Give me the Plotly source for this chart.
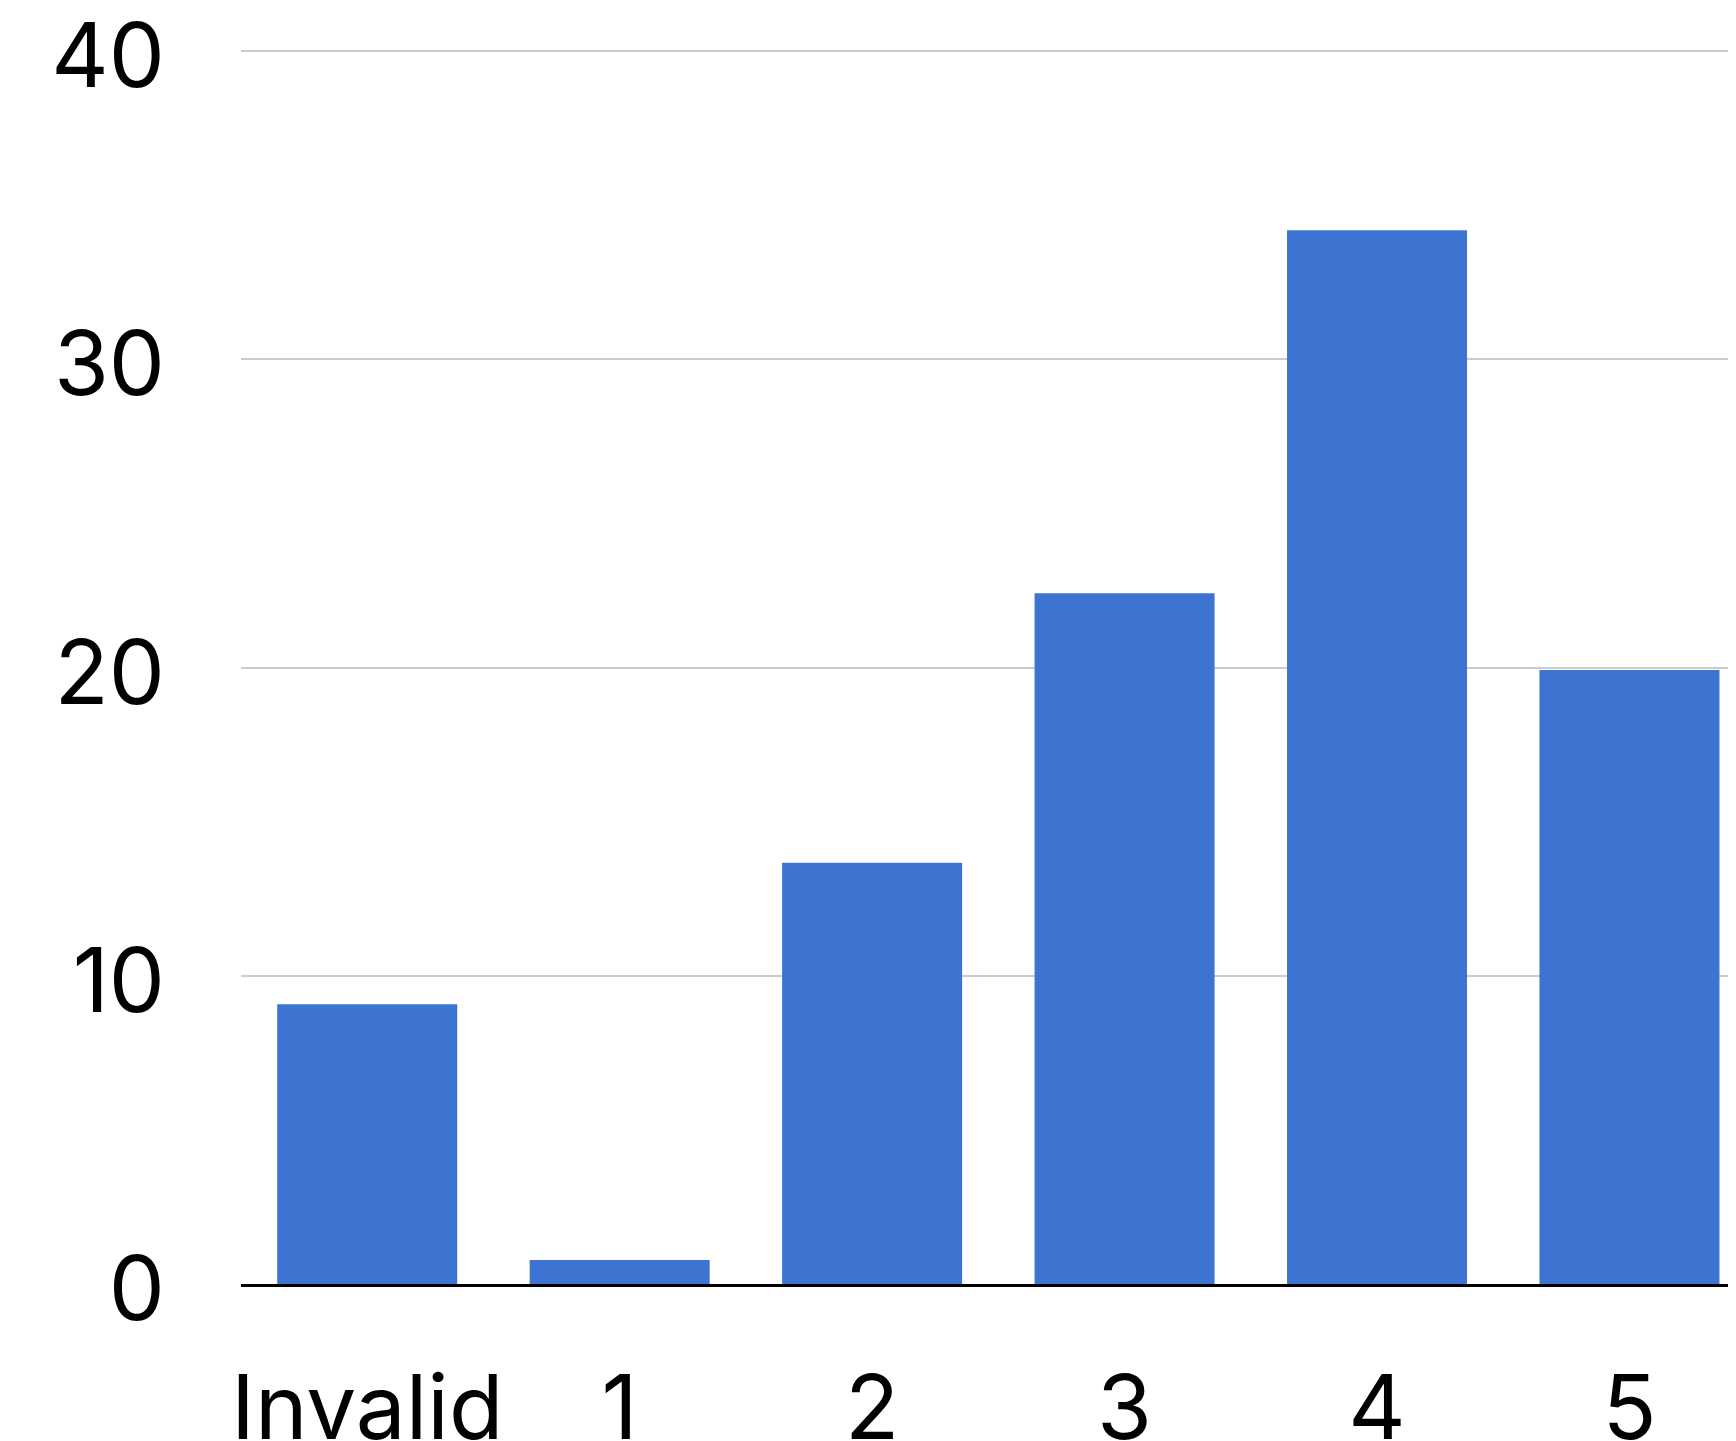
import plotly.graph_objects as go

categories = ["Invalid", "1", "2", "3", "4", "5"]
values = [9.08, 0.78, 13.67, 22.41, 34.19, 19.92]
y_ticks = [0, 10, 20, 30, 40]

fig = go.Figure(go.Bar(x=categories, y=values, marker=dict(color="#3e74d1", line=dict(width=0))))

fig.update_layout(
    width=1728, height=1433,
    margin=dict(l=233, r=0, t=40, b=157),
    paper_bgcolor="white", plot_bgcolor="white",
    bargap=0.287,
    showlegend=False,
    font=dict(family="Inter, Liberation Sans, Arial, sans-serif", color="black", size=88),
)
fig.update_xaxes(
    type="category", range=[-0.5, 5.422],
    showgrid=False, showline=True, linecolor="black", linewidth=3,
    ticks="", ticklabelstandoff=45, automargin=False,
    tickfont=dict(size=89),
)
fig.update_yaxes(
    range=[0, 40.1], tickvals=y_ticks,
    showgrid=True, gridcolor="#cccccc", gridwidth=1.5,
    zeroline=False, showline=False,
    ticks="", ticklabelstandoff=75, ticklabelshift=5, automargin=False,
    ticklabeloverflow="allow",
    tickfont=dict(size=89),
)
fig.write_html("out.html")
